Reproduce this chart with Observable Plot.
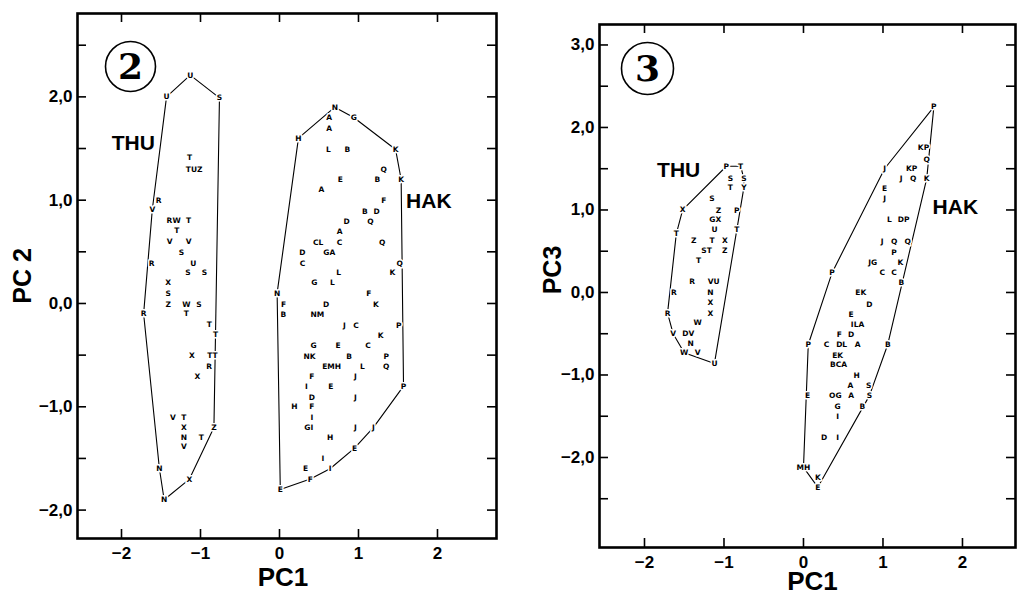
<!DOCTYPE html>
<html><head><meta charset="utf-8">
<script src="https://cdn.jsdelivr.net/npm/d3@7"></script>
<script src="https://cdn.jsdelivr.net/npm/@observablehq/plot@0.6"></script>
<style>
body{margin:0;background:#fff;}
#wrap{position:relative;width:1018px;height:595px;overflow:hidden;background:#fff;}
#p2{position:absolute;left:0;top:0;}
#p3{position:absolute;left:509px;top:0;}
</style></head><body><div id="wrap"><div id="p2"></div><div id="p3"></div></div>
<script>
// ---------- Panel 2 (PC1 vs PC2) ----------
const thu2Labels = ["U","U","S","T","TUZ","R","V","RW","T","T","V","V","S","R","U","S","S","X","S","Z","W","S","R","T","T","T","X","TT","R","X","V","T","X","Z","N","T","V","N","X","N"];
const thu2X = [-1.13,-1.43,-0.76,-1.14,-1.08,-1.53,-1.61,-1.34,-1.15,-1.30,-1.39,-1.15,-1.24,-1.62,-1.09,-1.16,-0.95,-1.41,-1.41,-1.41,-1.18,-1.02,-1.72,-1.18,-0.89,-0.81,-1.11,-0.85,-0.89,-1.04,-1.35,-1.21,-1.21,-0.83,-1.21,-0.99,-1.21,-1.52,-1.14,-1.46];
const thu2Y = [2.21,2.00,1.99,1.41,1.30,1.00,0.91,0.80,0.80,0.71,0.60,0.60,0.49,0.39,0.39,0.30,0.30,0.20,0.10,-0.01,-0.01,-0.01,-0.10,-0.10,-0.20,-0.30,-0.50,-0.50,-0.61,-0.71,-1.10,-1.10,-1.20,-1.20,-1.30,-1.30,-1.39,-1.60,-1.70,-1.90];

const hak2Labels = ["N","A","A","G","H","L","B","K","Q","E","B","K","A","F","B","D","D","Q","A","CL","C","Q","D","GA","C","Q","L","K","G","L","N","F","F","D","K","B","NM","J","C","P","K","G","E","C","NK","B","P","EMH","L","Q","F","J","I","E","P","D","J","H","F","I","GI","J","J","H","E","I","E","I","F","E"];
const hak2X = [0.70,0.63,0.63,0.94,0.24,0.62,0.86,1.47,1.32,0.77,1.24,1.54,0.53,1.32,1.08,1.23,0.85,1.15,0.76,0.49,0.76,1.30,0.29,0.63,0.29,1.52,0.75,1.43,0.44,0.67,-0.03,1.13,0.05,0.59,1.22,0.05,0.48,0.82,0.97,1.51,1.28,0.43,0.74,1.12,0.38,0.88,1.35,0.66,1.05,1.35,0.41,0.96,0.34,0.65,1.57,0.41,0.96,0.19,0.41,0.41,0.37,0.96,1.19,0.64,0.95,0.55,0.33,0.64,0.39,0.01];
const hak2Y = [1.90,1.80,1.69,1.80,1.60,1.49,1.49,1.49,1.30,1.20,1.20,1.20,1.10,1.00,0.89,0.89,0.79,0.79,0.70,0.59,0.59,0.59,0.49,0.49,0.39,0.39,0.30,0.30,0.20,0.20,0.10,0.10,-0.01,-0.01,-0.01,-0.11,-0.11,-0.21,-0.21,-0.21,-0.31,-0.41,-0.41,-0.41,-0.51,-0.51,-0.51,-0.61,-0.61,-0.61,-0.71,-0.71,-0.80,-0.80,-0.80,-0.91,-0.91,-1.00,-1.00,-1.10,-1.20,-1.20,-1.20,-1.30,-1.40,-1.50,-1.60,-1.60,-1.70,-1.80];

// ---------- Panel 3 (PC1 vs PC3) ----------
const thu3Labels = ["P","T","S","S","T","Y","S","X","Z","P","GX","U","T","T","Z","T","X","ST","Z","T","R","VU","R","N","X","X","R","W","V","DV","N","W","V","U"];
const thu3X = [-0.97,-0.79,-0.92,-0.75,-0.92,-0.75,-1.15,-1.52,-1.07,-0.84,-1.11,-1.12,-0.84,-1.60,-1.38,-1.15,-0.99,-1.22,-0.99,-1.32,-1.40,-1.13,-1.63,-1.17,-1.17,-1.17,-1.71,-1.33,-1.64,-1.45,-1.42,-1.50,-1.33,-1.12];
const thu3Y = [1.53,1.53,1.38,1.38,1.27,1.27,1.14,1.00,0.99,0.99,0.88,0.76,0.76,0.71,0.63,0.63,0.63,0.51,0.51,0.39,0.13,0.13,0.00,0.00,-0.12,-0.25,-0.25,-0.37,-0.50,-0.50,-0.62,-0.73,-0.73,-0.86];

const hak3Labels = ["P","KP","Q","J","KP","J","Q","K","E","J","L","DP","J","Q","Q","P","JG","K","P","C","C","B","EK","D","E","ILA","F","D","P","C","DL","A","B","EK","BCA","H","A","S","E","OG","A","S","G","B","I","D","I","MH","K","E"];
const hak3X = [1.64,1.51,1.55,1.02,1.36,1.23,1.38,1.55,1.02,1.02,1.08,1.26,0.99,1.14,1.31,1.14,0.87,1.22,0.36,0.99,1.14,1.23,0.72,0.83,0.60,0.68,0.45,0.60,0.06,0.29,0.48,0.68,1.06,0.43,0.44,0.67,0.59,0.82,0.05,0.40,0.60,0.83,0.43,0.74,0.43,0.26,0.43,0.00,0.18,0.18];
const hak3Y = [2.25,1.75,1.61,1.50,1.50,1.38,1.38,1.38,1.26,1.14,0.88,0.88,0.62,0.62,0.62,0.48,0.36,0.36,0.24,0.24,0.24,0.12,0.00,-0.15,-0.27,-0.39,-0.51,-0.51,-0.63,-0.63,-0.63,-0.63,-0.63,-0.76,-0.88,-1.01,-1.13,-1.13,-1.25,-1.25,-1.25,-1.25,-1.38,-1.38,-1.50,-1.76,-1.76,-2.12,-2.24,-2.36];

// ---------- Axes / annotations ----------
const xTicks = [-2,-1,0,1,2];
const y2Minor = [-2,-1.5,-1,-0.5,0,0.5,1,1.5,2,2.5];
const y2Labels = [-2,-1,0,1,2];
const y3Minor = [-2.5,-2,-1.5,-1,-0.5,0,0.5,1,1.5,2,2.5,3];
const y3Labels = [-2,-1,0,1,2,3];
const groupNames = ["THU","HAK"];
const group2X = [-1.85, 1.89];
const group2Y = [1.55, 0.99];
const group3X = [-1.57, 1.91];
const group3Y = [1.48, 1.03];

const fmtY = d => (d < 0 ? "\u2212" : "") + Math.abs(d).toFixed(1).replace(".", ",");
const fmtX = d => (d < 0 ? "\u2212" + Math.abs(d) : String(d));
const SANS = "'Liberation Sans', Arial, Helvetica, sans-serif";

function rowsOf(labels, X, Y, g) {
  return labels.map((t, i) => ({t, x: X[i], y: Y[i], g}));
}

function panel(o) {
  const innerW = o.width - o.ml - o.mr, innerH = o.height - o.mt - o.mb;
  const rows = o.rows;
  const groups = groupNames.map((n, i) => ({n, x: o.gx[i], y: o.gy[i]}));
  const svg = Plot.plot({
    width: o.width, height: o.height,
    marginLeft: o.ml, marginRight: o.mr, marginTop: o.mt, marginBottom: o.mb,
    x: {domain: o.xDomain, axis: null},
    y: {domain: o.yDomain, axis: null},
    style: {background: "white", color: "black", overflow: "visible", fontFamily: SANS},
    marks: [
      Plot.hull(rows, {x: "x", y: "y", z: "g", stroke: "black", strokeWidth: 1.1, fill: "none"}),
      Plot.text(rows, {x: "x", y: "y", text: "t", fontSize: 7.5, fontWeight: "bold", fontFamily: "'DejaVu Sans', sans-serif",
        fill: "black", stroke: "white", strokeWidth: 3, paintOrder: "stroke"}),
      Plot.tickY(o.yMinor, {y: d => d, insetRight: innerW - 9, strokeWidth: 1.6}),
      Plot.tickY(o.yMinor, {y: d => d, insetLeft: innerW - 9, strokeWidth: 1.6}),
      Plot.tickX(xTicks, {x: d => d, insetTop: innerH - 9, strokeWidth: 1.6}),
      Plot.tickX(xTicks, {x: d => d, insetBottom: innerH - 9, strokeWidth: 1.6}),
      Plot.frame({stroke: "black", strokeWidth: 2.6}),
      Plot.text(o.yLabels, {y: d => d, text: fmtY, frameAnchor: "left", dx: -5, textAnchor: "end", lineAnchor: "middle", fontSize: 17, fontWeight: "bold", fontFamily: SANS}),
      Plot.text(xTicks, {x: d => d, text: fmtX, frameAnchor: "bottom", dy: 8, textAnchor: "middle", lineAnchor: "top", fontSize: 17, fontWeight: "bold", fontFamily: SANS}),
      Plot.text([o.yTitle], {text: d => d, frameAnchor: "left", rotate: -90, dx: o.ytDx, dy: o.ytDy, textAnchor: "middle", lineAnchor: "middle", fontSize: 25, fontWeight: "bold", fontFamily: SANS}),
      Plot.text(["PC1"], {text: d => d, frameAnchor: "bottom", dx: o.xtDx, dy: o.xtDy, textAnchor: "middle", lineAnchor: "middle", fontSize: 26, fontWeight: "bold", fontFamily: SANS}),
      Plot.dot([o.num], {x: null, y: null, frameAnchor: "top-left", dx: o.cDx, dy: o.cDy, r: o.cR, stroke: "black", strokeWidth: 1.6, fill: "white"}),
      Plot.text([o.num], {text: d => d, frameAnchor: "top-left", dx: o.cDx, dy: o.cDy + 1, textAnchor: "middle", lineAnchor: "middle", fontSize: 36, fontWeight: "bold", fontFamily: "'DejaVu Serif', serif"}),
      Plot.text(groups, {x: "x", y: "y", text: "n", fontSize: 21, fontWeight: "bold", fontFamily: SANS, ariaLabel: "group-label"})
    ]
  });
  // condense the group labels (style only)
  svg.querySelectorAll('g[aria-label="group-label"] text').forEach(t => {
    const tr = t.getAttribute("transform");
    if (tr) {
      t.setAttribute("transform", tr + " scale(0.84,1.08)");
    } else {
      const x = t.getAttribute("x") || 0, y = t.getAttribute("y") || 0;
      t.removeAttribute("x"); t.removeAttribute("y");
      t.setAttribute("transform", `translate(${x},${y}) scale(0.84,1.08)`);
    }
  });
  return svg;
}

const rows2 = rowsOf(thu2Labels, thu2X, thu2Y, "THU").concat(rowsOf(hak2Labels, hak2X, hak2Y, "HAK"));
const rows3 = rowsOf(thu3Labels, thu3X, thu3Y, "THU").concat(rowsOf(hak3Labels, hak3X, hak3Y, "HAK"));

document.getElementById("p2").appendChild(panel({
  rows: rows2, width: 505, height: 595, ml: 77, mr: 9, mt: 13, mb: 57,
  xDomain: [-2.557, 2.747], yDomain: [-2.275, 2.807],
  yMinor: y2Minor, yLabels: y2Labels, yTitle: "PC 2", ytDx: -55, ytDy: 0,
  xtDx: -4, xtDy: 39, num: "2", cDx: 53, cDy: 53, cR: 25, gx: group2X, gy: group2Y
}));
document.getElementById("p3").appendChild(panel({
  rows: rows3, width: 509, height: 595, ml: 90, mr: 3, mt: 24, mb: 48,
  xDomain: [-2.566, 2.667], yDomain: [-3.091, 3.248],
  yMinor: y3Minor, yLabels: y3Labels, yTitle: "PC3", ytDx: -47, ytDy: -16,
  xtDx: 5, xtDy: 34, num: "3", cDx: 48, cDy: 44, cR: 26, gx: group3X, gy: group3Y
}));
</script>
</body></html>
